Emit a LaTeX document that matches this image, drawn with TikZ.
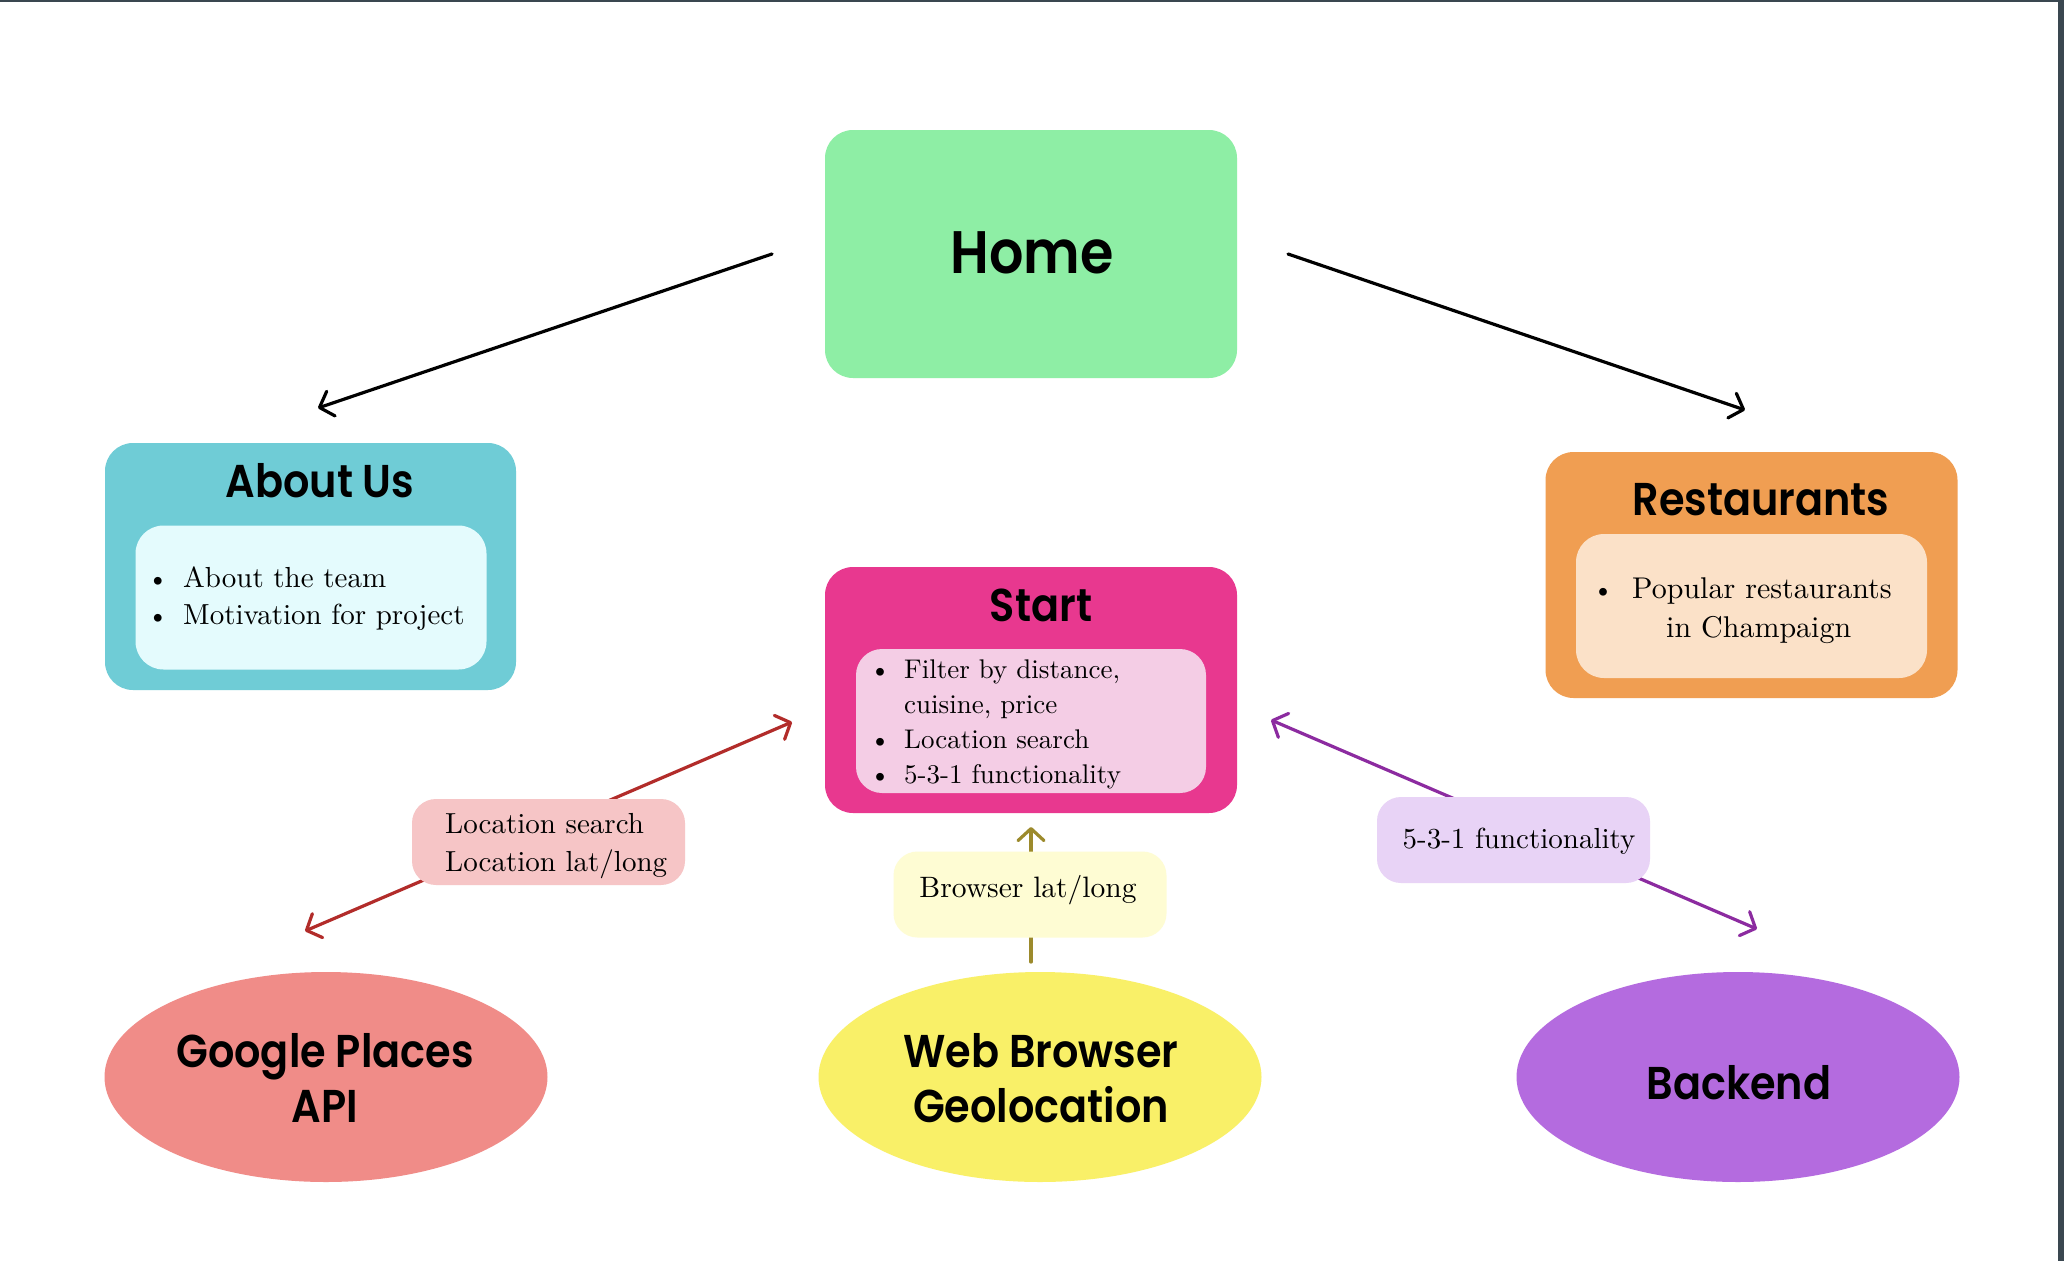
\documentclass[tikz,border=0pt]{standalone}
\usepackage{fontspec}
\setmainfont{lmroman10-regular.otf}
\newfontfamily\titlefont{Poppins SemiBold}[FakeStretch=0.9]
\usetikzlibrary{arrows.meta,shapes.geometric}
\definecolor{homec}{RGB}{142,238,165}
\definecolor{aboutc}{RGB}{111,204,214}
\definecolor{aboutin}{RGB}{228,251,253}
\definecolor{restc}{RGB}{240,158,82}
\definecolor{restin}{RGB}{251,225,200}
\definecolor{startc}{RGB}{232,56,143}
\definecolor{startin}{RGB}{244,205,229}
\definecolor{googc}{RGB}{240,140,136}
\definecolor{webc}{RGB}{249,240,104}
\definecolor{backc}{RGB}{180,107,223}
\definecolor{lblred}{RGB}{246,197,198}
\definecolor{lblyel}{RGB}{254,252,211}
\definecolor{lblpur}{RGB}{232,211,246}
\definecolor{linered}{RGB}{178,44,42}
\definecolor{lineol}{RGB}{156,138,44}
\definecolor{linepur}{RGB}{140,43,160}
\definecolor{edgec}{RGB}{58,71,80}
\tikzset{
  box/.style={rectangle, rounded corners=28pt, inner sep=0pt, draw=none},
  lbl/.style={rectangle, rounded corners=24pt, inner sep=0pt, draw=none, minimum width=273pt, minimum height=86pt},
  oval/.style={ellipse, inner sep=0pt, draw=none, minimum width=443pt, minimum height=210pt},
  ttl/.style={anchor=base, inner sep=0pt, font=\titlefont\fontsize{46}{52}\selectfont},
  body/.style={anchor=base west, inner sep=0pt, font=\fontsize{29}{35}\selectfont},
  bodyc/.style={anchor=base, inner sep=0pt, font=\fontsize{29.5}{35}\selectfont},
  sbody/.style={anchor=base west, inner sep=0pt, font=\fontsize{27}{33}\selectfont},
  bul/.style={anchor=base, inner sep=0pt, font=\fontsize{27}{35}\selectfont},
  conn/.style={line width=3.2pt, line cap=round},
  >={Straight Barb[length=12pt,width=26pt,round]}
}
\begin{document}
\begin{tikzpicture}[x=1pt,y=-1pt]
\useasboundingbox (0,0) rectangle (2064,1261);
\fill[white] (0,0) rectangle (2064,1261);
\fill[edgec] (0,0) rectangle (2064,2);
\fill[edgec] (2058,0) rectangle (2064,1261);

% main boxes
\node[box, fill=homec, minimum width=412pt, minimum height=248pt] (home) at (1031,254) {};
\node[ttl, font=\titlefont\fontsize{60}{66}\selectfont] (homeT) at (1032,273) {Home};

\node[box, fill=aboutc, minimum width=411pt, minimum height=247pt] (about) at (310.5,566.5) {};
\node[ttl] (aboutT) at (320,497) {About Us};
\node[box, fill=aboutin, minimum width=351pt, minimum height=144pt] (aboutIn) at (311,597.5) {};
\node[bul] (ab1) at (158,587) {\textbullet};
\node[body] (at1) at (183,587) {About the team};
\node[bul] (ab2) at (158,624) {\textbullet};
\node[body] (at2) at (183,624) {Motivation for project};

\node[box, fill=restc, minimum width=412pt, minimum height=246pt] (rest) at (1751.5,575) {};
\node[ttl] (restT) at (1761,515) {Restaurants};
\node[box, fill=restin, minimum width=351pt, minimum height=144pt] (restIn) at (1751.5,606) {};
\node[bul] (rb1) at (1603,598) {\textbullet};
\node[body, font=\fontsize{30}{35}\selectfont] (rt1) at (1632,598) {Popular restaurants};
\node[body, font=\fontsize{30}{35}\selectfont] (rt2) at (1666,637) {in Champaign};

\node[box, fill=startc, minimum width=412pt, minimum height=246pt] (start) at (1031,690) {};
\node[ttl] (startT) at (1041,621) {Start};
\node[box, fill=startin, minimum width=350pt, minimum height=144pt, rounded corners=26pt] (startIn) at (1031,721) {};
\node[bul] (sb1) at (880,678) {\textbullet};
\node[sbody] (st1) at (904,678) {Filter by distance,};
\node[sbody] (st2) at (904,713) {cuisine, price};
\node[bul] (sb3) at (880,748) {\textbullet};
\node[sbody] (st3) at (904,748) {Location search};
\node[bul] (sb4) at (880,783) {\textbullet};
\node[sbody] (st4) at (904,783) {5-3-1 functionality};

% ellipses
\node[oval, fill=googc] (goog) at (326,1077) {};
\node[ttl] (googT1) at (325,1067) {Google Places};
\node[ttl] (googT2) at (325,1122) {API};
\node[oval, fill=webc] (web) at (1040,1077) {};
\node[ttl] (webT1) at (1041,1067) {Web Browser};
\node[ttl] (webT2) at (1041,1122) {Geolocation};
\node[oval, fill=backc] (back) at (1738,1077) {};
\node[ttl] (backT) at (1739,1099) {Backend};

% connector end points
\coordinate (hL) at (772,254);
\coordinate (aTop) at (318,408);
\coordinate (hR) at (1288,254);
\coordinate (rTop) at (1745,410);
\coordinate (gEnd) at (305,931);
\coordinate (sL) at (792,722);
\coordinate (wEnd) at (1031,962);
\coordinate (sB) at (1031,827);
\coordinate (sR) at (1271,720);
\coordinate (bEnd) at (1757,929);

\draw[conn, ->] (hL) -- (aTop);
\draw[conn, ->] (hR) -- (rTop);
\draw[conn, linered, <->] (gEnd) -- (sL);
\draw[conn, lineol, ->] (wEnd) -- (sB);
\draw[conn, linepur, <->] (sR) -- (bEnd);

% labels
\node[lbl, fill=lblred] (lblA) at (548.5,842) {};
\node[body] (lA1) at (445,833) {Location search};
\node[body] (lA2) at (445,871) {Location lat/long};
\node[lbl, fill=lblyel] (lblB) at (1030,894.5) {};
\node[bodyc] (lB1) at (1028,897) {Browser lat/long};
\node[lbl, fill=lblpur] (lblC) at (1513.5,840) {};
\node[bodyc, font=\fontsize{29}{35}\selectfont] (lC1) at (1519,848) {5-3-1 functionality};
\end{tikzpicture}
\end{document}
